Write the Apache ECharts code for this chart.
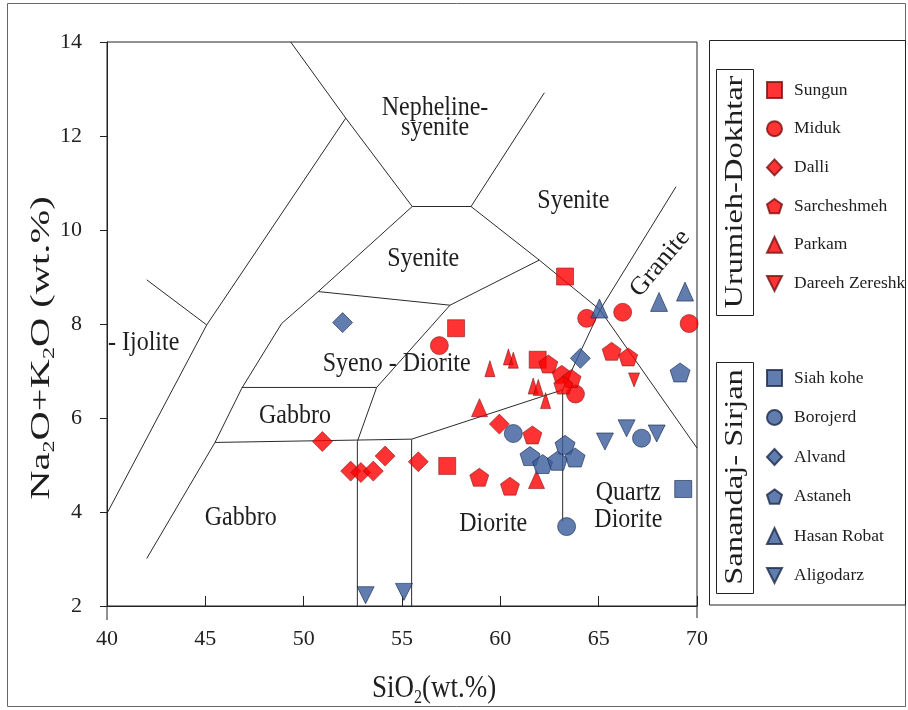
<!DOCTYPE html>
<html>
<head>
<meta charset="utf-8">
<title>TAS diagram</title>
<script src="https://cdn.jsdelivr.net/npm/echarts/dist/echarts.min.js"></script>
<style>
html,body{margin:0;padding:0;background:#fff;}
#chart{width:908px;height:710px;}
</style>
</head>
<body>
<div id="chart"></div>
<script>
// ---------------- data ----------------
const xTicks = [40, 45, 50, 55, 60, 65, 70];
const yTicks = [2, 4, 6, 8, 10, 12, 14];

// Urumieh-Dokhtar  [SiO2, Na2O+K2O]
const sungun        = [[57.75, 7.91], [63.29, 9.01], [61.90, 7.24], [57.30, 4.98]];
const miduk         = [[56.90, 7.54], [64.39, 8.12], [66.22, 8.25], [69.60, 8.01], [63.82, 6.51]];
const dalli         = [[50.95, 5.50], [52.39, 4.87], [52.91, 4.84], [53.54, 4.87], [54.14, 5.19], [55.83, 5.07], [59.95, 5.87]];
const sarcheshmeh   = [[62.44, 7.15], [63.12, 6.93], [63.62, 6.84], [63.20, 6.70], [65.66, 7.42], [66.50, 7.30], [61.63, 5.64], [58.93, 4.74], [60.49, 4.55]];
const parkam        = [[59.47, 7.05], [60.41, 7.30], [60.66, 7.23], [61.67, 6.68], [61.93, 6.65], [62.30, 6.37], [58.94, 6.22], [61.84, 4.69]];
const dareehZereshk = [[66.80, 6.81]];
// Sanandaj-Sirjan
const siahKohe      = [[69.30, 4.49]];
const borojerd      = [[60.66, 5.67], [67.18, 5.57], [63.37, 3.69]];
const alvand        = [[51.98, 8.03], [64.07, 7.27]];
const astaneh       = [[63.29, 5.43], [61.51, 5.19], [62.15, 5.02], [62.90, 5.09], [63.80, 5.16], [69.14, 6.97]];
const hasanRobat    = [[65.04, 8.33], [68.07, 8.47], [69.39, 8.69]];
const aligodarz     = [[65.32, 5.50], [66.42, 5.78], [67.95, 5.67], [53.15, 2.23], [55.10, 2.30]];

const urumiehNames  = ['Sungun', 'Miduk', 'Dalli', 'Sarcheshmeh', 'Parkam', 'Dareeh Zereshk'];
const sanandajNames = ['Siah kohe', 'Borojerd', 'Alvand', 'Astaneh', 'Hasan Robat', 'Aligodarz'];

// TAS field boundaries (polylines, [SiO2, Na2O+K2O])
const boundaryLines = [
  [[49.34, 14.0], [52.14, 12.38], [55.52, 10.50]],
  [[55.52, 10.50], [58.51, 10.50]],
  [[58.51, 10.50], [62.24, 12.92]],
  [[58.51, 10.50], [61.98, 9.36], [65.07, 8.30], [70.0, 5.36]],
  [[65.07, 8.30], [68.93, 10.92]],
  [[65.07, 8.30], [63.17, 6.60], [63.17, 3.80]],
  [[63.17, 6.60], [55.49, 5.55], [55.49, 2.0]],
  [[55.49, 5.55], [45.49, 5.48]],
  [[52.73, 2.0], [52.73, 5.50], [53.71, 6.65], [57.44, 8.40], [61.98, 9.36]],
  [[50.74, 8.69], [57.44, 8.40]],
  [[50.74, 8.69], [55.52, 10.50]],
  [[42.02, 3.01], [45.49, 5.48], [46.85, 6.63], [48.88, 8.01], [50.74, 8.69]],
  [[46.85, 6.65], [53.71, 6.65]],
  [[40.0, 3.97], [45.07, 7.98], [52.14, 12.38]],
  [[42.02, 8.94], [45.07, 7.98]]
];

const fieldNames   = ['Nepheline-\nsyenite', 'Syenite', 'Syenite', 'Syeno - Diorite', 'Gabbro', 'Gabbro', 'Diorite', 'Quartz\nDiorite', 'Granite', '- Ijolite'];
const fieldAnchors = [[56.68, 12.39], [63.71, 10.62], [56.08, 9.38], [54.73, 7.16], [49.56, 6.04], [46.80, 3.87], [59.64, 3.74], [66.51, 4.12], [68.12, 9.29], [40.05, 7.59]];

// ---------------- styles ----------------
const FONT = 'Liberation Serif';
const RED = {color: '#FF0000', borderColor: '#7A1010', borderWidth: 0.7};
const BLUE = {color: '#3A5D9C', borderColor: '#1B2A4A', borderWidth: 0.8};
const PENTAGON = 'path://M50 0L97.55 34.55L79.39 90.45L20.61 90.45L2.45 34.55Z';
const INV_TRI = 'path://M0 0L10 0L5 10Z';
const PARKAM_LARGE = [6, 7];
const FIELD_STYLE = {
  0: {lh: 18},
  7: {lh: 24},
  8: {rot: 50 * Math.PI / 180, sy: 1.05, sx: 1.1},
  9: {align: 'left'}
};

const seriesDefs = [
  {name: 'Sungun', data: sungun, symbol: 'rect', size: 17, st: RED},
  {name: 'Miduk', data: miduk, symbol: 'circle', size: 18, st: RED},
  {name: 'Dalli', data: dalli, symbol: 'diamond', size: 20, st: RED},
  {name: 'Sarcheshmeh', data: sarcheshmeh, symbol: PENTAGON, size: [19, 18], st: RED},
  {name: 'Parkam', data: parkam, symbol: 'triangle',
    size: function (v, p) { return PARKAM_LARGE.indexOf(p.dataIndex) >= 0 ? [16, 18] : [10, 16]; }, st: RED},
  {name: 'Dareeh Zereshk', data: dareehZereshk, symbol: INV_TRI, size: [11, 14], st: RED},
  {name: 'Siah kohe', data: siahKohe, symbol: 'rect', size: 17, st: BLUE},
  {name: 'Borojerd', data: borojerd, symbol: 'circle', size: 18, st: BLUE},
  {name: 'Alvand', data: alvand, symbol: 'diamond', size: 20, st: BLUE},
  {name: 'Astaneh', data: astaneh, symbol: PENTAGON, size: [20, 19], st: BLUE},
  {name: 'Hasan Robat', data: hasanRobat, symbol: 'triangle', size: [17, 19], st: BLUE},
  {name: 'Aligodarz', data: aligodarz, symbol: INV_TRI, size: [17, 17], st: BLUE}
];

const series = [];
boundaryLines.forEach(function (pl) {
  series.push({
    type: 'line', data: pl, symbol: 'none', silent: true, z: 1,
    lineStyle: {color: '#2a2a2a', width: 1}, animation: false
  });
});
series.push({
  type: 'custom', coordinateSystem: 'cartesian2d', silent: true, z: 2, clip: false,
  encode: {x: 0, y: 1},
  data: fieldAnchors.map(function (a, i) { return [a[0], a[1], i]; }),
  renderItem: function (params, api) {
    const i = api.value(2);
    const p = api.coord([api.value(0), api.value(1)]);
    const s = FIELD_STYLE[i] || {};
    return {
      type: 'text', x: p[0], y: p[1], rotation: s.rot || 0,
      scaleX: s.sx || 1, scaleY: s.sy || 1.12,
      style: {
        text: fieldNames[i], fontFamily: FONT, fontSize: 24, fill: '#1e1e1e',
        align: s.align || 'center', verticalAlign: 'middle', lineHeight: s.lh || 24
      }
    };
  }
});
seriesDefs.forEach(function (d) {
  series.push({
    type: 'scatter', name: d.name, data: d.data, symbol: d.symbol, symbolSize: d.size,
    itemStyle: d.st, z: 5, animation: false
  });
});

const legendCommon = {
  orient: 'vertical', left: 761, itemWidth: 15, itemHeight: 16, selectedMode: false,
  textStyle: {fontFamily: FONT, fontSize: 17.5, color: '#1e1e1e', lineHeight: 20, padding: [0, 0, 0, 7]}
};

const option = {
  backgroundColor: '#ffffff',
  animation: false,
  grid: {left: 107, top: 42, width: 590, height: 564, show: true, borderColor: '#222', borderWidth: 1,
         backgroundColor: 'transparent', containLabel: false, outerBoundsMode: 'none'},
  xAxis: {
    type: 'value', min: xTicks[0], max: xTicks[xTicks.length - 1], interval: 5,
    axisLine: {show: true, lineStyle: {color: '#222', width: 1}},
    axisTick: {show: true, inside: true, length: 10, lineStyle: {color: '#222'}},
    axisLabel: {fontFamily: FONT, fontSize: 22, color: '#222', margin: 22,
                formatter: function (v) { return xTicks.indexOf(v) >= 0 ? String(v) : ''; }},
    splitLine: {show: false}
  },
  yAxis: {
    type: 'value', min: yTicks[0], max: yTicks[yTicks.length - 1], interval: 2,
    axisLine: {show: true, lineStyle: {color: '#222', width: 1}},
    axisTick: {show: true, inside: false, length: 7, lineStyle: {color: '#222'}},
    axisLabel: {fontFamily: FONT, fontSize: 22, color: '#222', margin: 25,
                formatter: function (v) { return yTicks.indexOf(v) >= 0 ? String(v) : ''; }},
    splitLine: {show: false}
  },
  legend: [
    Object.assign({}, legendCommon, {data: urumiehNames, top: 75, itemGap: 18.7}),
    Object.assign({}, legendCommon, {data: sanandajNames, top: 363, itemGap: 19.5})
  ],
  graphic: {elements: [
    {type: 'rect', silent: true, shape: {x: 7.5, y: 3.5, width: 898, height: 703},
     style: {fill: 'none', stroke: '#666', lineWidth: 1}},
    {type: 'rect', silent: true, shape: {x: 709.5, y: 40.5, width: 196, height: 564.5},
     style: {fill: 'none', stroke: '#222', lineWidth: 1}},
    {type: 'rect', silent: true, shape: {x: 716.5, y: 69.5, width: 37, height: 246},
     style: {fill: 'none', stroke: '#222', lineWidth: 1}},
    {type: 'rect', silent: true, shape: {x: 716.5, y: 362.5, width: 37, height: 231},
     style: {fill: 'none', stroke: '#222', lineWidth: 1}},
    {type: 'text', silent: true, x: 735, y: 192, rotation: Math.PI / 2, scaleX: 1.25,
     style: {text: 'Urumieh-Dokhtar', fontFamily: FONT, fontSize: 26, fill: '#1e1e1e', align: 'center', verticalAlign: 'middle'}},
    {type: 'text', silent: true, x: 735, y: 477, rotation: Math.PI / 2, scaleX: 1.25,
     style: {text: 'Sanandaj- Sirjan', fontFamily: FONT, fontSize: 26, fill: '#1e1e1e', align: 'center', verticalAlign: 'middle'}},
    {type: 'text', silent: true, x: 42, y: 348, rotation: Math.PI / 2, scaleX: 1.5,
     style: {text: '{n|Na}{s|2}{n|O+K}{s|2}{n|O (wt.%)}', align: 'center', verticalAlign: 'middle',
       rich: {n: {fontFamily: FONT, fontSize: 27, fill: '#1e1e1e', lineHeight: 32},
              s: {fontFamily: FONT, fontSize: 16, fill: '#1e1e1e', lineHeight: 16, verticalAlign: 'bottom'}}}},
    {type: 'text', silent: true, x: 434, y: 688, scaleY: 1.2,
     style: {text: '{n|SiO}{s|2}{n|(wt.%)}', align: 'center', verticalAlign: 'middle',
       rich: {n: {fontFamily: FONT, fontSize: 27, fill: '#1e1e1e', lineHeight: 32},
              s: {fontFamily: FONT, fontSize: 16, fill: '#1e1e1e', lineHeight: 16, verticalAlign: 'bottom'}}}}
  ]},
  series: series
};

const chart = echarts.init(document.getElementById('chart'), null, {renderer: 'canvas'});
chart.setOption(option);

// short extensions of the frame's vertical sides below the x axis
const bl = chart.convertToPixel({gridIndex: 0}, [xTicks[0], yTicks[0]]);
const br = chart.convertToPixel({gridIndex: 0}, [xTicks[xTicks.length - 1], yTicks[0]]);
chart.setOption({graphic: {elements: [
  {id: 'extL', type: 'line', silent: true, shape: {x1: bl[0], y1: bl[1], x2: bl[0], y2: bl[1] + 14}, style: {stroke: '#222', lineWidth: 1}},
  {id: 'extR', type: 'line', silent: true, shape: {x1: br[0], y1: br[1], x2: br[0], y2: br[1] + 12}, style: {stroke: '#222', lineWidth: 1}}
]}});
</script>
</body>
</html>
